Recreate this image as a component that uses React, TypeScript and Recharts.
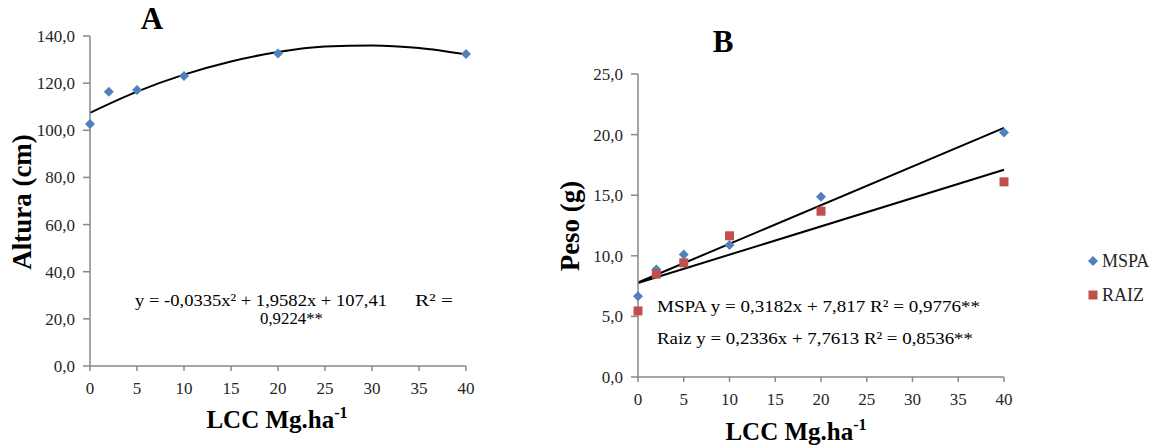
import { ComposedChart, Scatter, Line, XAxis, YAxis } from 'recharts';

// LCC doses (Mg/ha)
const doses = [0, 2, 5, 10, 20, 40];
// A: plant height (cm)
const altura = [102.7, 116.3, 117.1, 123.0, 132.6, 132.4];
// B: dry weight (g)
const mspa = [6.67, 8.87, 10.1, 10.9, 14.88, 20.17];
const raiz = [5.45, 8.49, 9.42, 11.65, 13.68, 16.1];

// fitted curves
const curveX = [0, 5, 10, 15, 20, 25, 30, 35, 40];
const curveAltura = [107.4, 116.4, 123.6, 129.2, 133.2, 135.5, 136.0, 134.9, 132.2];
const fitX = [0, 40];
const fitMspa = [7.8, 20.55];
const fitRaiz = [7.76, 17.1];

const xTicks = [0, 5, 10, 15, 20, 25, 30, 35, 40];
const alturaTicks = [0, 20, 40, 60, 80, 100, 120, 140];
const pesoTicks = [0, 5, 10, 15, 20, 25];

const BLUE = '#4F81BD';
const RED = '#C0504D';
const AXIS = '#898989';
const SERIF = "'Liberation Serif', 'Times New Roman', serif";

const toPts = (xs: number[], ys: number[]) => xs.map((x, i) => ({ x, y: ys[i] }));
const fmt = (v: number) => v.toFixed(1).replace('.', ',');

const tickStyle = { fill: '#262626', fontSize: 17, fontFamily: SERIF };

function Diamond(props: any) {
  const { cx, cy } = props;
  const r = 5;
  return <polygon points={`${cx},${cy - r} ${cx + r},${cy} ${cx},${cy + r} ${cx - r},${cy}`} fill={BLUE} />;
}

function Square(props: any) {
  const { cx, cy } = props;
  return <rect x={cx - 4.5} y={cy - 4.5} width={9} height={9} fill={RED} />;
}

export default function App() {
  return (
    <div style={{ position: 'absolute', left: 0, top: 0, width: 1160, height: 448, background: '#fff', fontFamily: SERIF }}>
      {/* Panel A */}
      <div style={{ position: 'absolute', left: 0, top: 0 }}>
        <ComposedChart width={480} height={448} margin={{ top: 36, right: 14, bottom: 52, left: 0 }}>
          <XAxis
            type="number"
            dataKey="x"
            domain={[0, 40]}
            ticks={xTicks}
            height={30}
            stroke={AXIS}
            strokeWidth={1.5}
            tickSize={5}
            tickMargin={11}
            tick={tickStyle}
          />
          <YAxis
            type="number"
            dataKey="y"
            domain={[0, 140]}
            ticks={alturaTicks}
            width={90}
            stroke={AXIS}
            strokeWidth={1.5}
            tickSize={7}
            tickMargin={8}
            tick={tickStyle}
            tickFormatter={fmt}
          />
          <Line
            data={toPts(curveX, curveAltura)}
            dataKey="y"
            type="monotone"
            stroke="#000"
            strokeWidth={2}
            dot={false}
            isAnimationActive={false}
          />
          <Scatter data={toPts(doses, altura)} dataKey="y" shape={Diamond} isAnimationActive={false} />
        </ComposedChart>
      </div>

      {/* Panel B */}
      <div style={{ position: 'absolute', left: 540, top: 0 }}>
        <ComposedChart width={620} height={448} margin={{ top: 74, right: 156, bottom: 41, left: 0 }}>
          <XAxis
            type="number"
            dataKey="x"
            domain={[0, 40]}
            ticks={xTicks}
            height={30}
            stroke={AXIS}
            strokeWidth={1.5}
            tickSize={5}
            tickMargin={11}
            tick={tickStyle}
          />
          <YAxis
            type="number"
            dataKey="y"
            domain={[0, 25]}
            ticks={pesoTicks}
            width={98}
            stroke={AXIS}
            strokeWidth={1.5}
            tickSize={7}
            tickMargin={8}
            tick={tickStyle}
            tickFormatter={fmt}
          />
          <Line data={toPts(fitX, fitMspa)} dataKey="y" type="linear" stroke="#000" strokeWidth={2} dot={false} isAnimationActive={false} />
          <Line data={toPts(fitX, fitRaiz)} dataKey="y" type="linear" stroke="#000" strokeWidth={2} dot={false} isAnimationActive={false} />
          <Scatter data={toPts(doses, mspa)} dataKey="y" shape={Diamond} isAnimationActive={false} />
          <Scatter data={toPts(doses, raiz)} dataKey="y" shape={Square} isAnimationActive={false} />
        </ComposedChart>
      </div>

      {/* titles, axis titles, equations, legend */}
      <svg width={1160} height={448} style={{ position: 'absolute', left: 0, top: 0, pointerEvents: 'none' }} fontFamily={SERIF}>
        <text x={152} y={29} textAnchor="middle" fontSize={31} fontWeight="bold">A</text>
        <text x={723} y={52} textAnchor="middle" fontSize={31} fontWeight="bold">B</text>

        <text x={31} y={202} textAnchor="middle" fontSize={27} fontWeight="bold" transform="rotate(-90, 31, 202)">Altura (cm)</text>
        <text x={579} y={226} textAnchor="middle" fontSize={27} fontWeight="bold" transform="rotate(-90, 579, 226)">Peso (g)</text>

        <text x={277} y={428} textAnchor="middle" fontSize={25} fontWeight="bold">
          LCC Mg.ha<tspan fontSize={16} dy={-10}>-1</tspan>
        </text>
        <text x={796} y={440} textAnchor="middle" fontSize={25} fontWeight="bold">
          LCC Mg.ha<tspan fontSize={16} dy={-10}>-1</tspan>
        </text>

        <text x={135} y={306} fontSize={17} textLength={252} lengthAdjust="spacingAndGlyphs">y = -0,0335x² + 1,9582x + 107,41</text>
        <text x={415} y={306} fontSize={17} textLength={38} lengthAdjust="spacingAndGlyphs">R² =</text>
        <text x={260} y={324} fontSize={17} textLength={63} lengthAdjust="spacingAndGlyphs">0,9224**</text>

        <text x={657} y={312} fontSize={17} textLength={323} lengthAdjust="spacingAndGlyphs">MSPA y = 0,3182x + 7,817  R² = 0,9776**</text>
        <text x={657} y={344} fontSize={17} textLength={316} lengthAdjust="spacingAndGlyphs">Raiz y = 0,2336x + 7,7613  R² = 0,8536**</text>

        <polygon points="1093,256 1098,261 1093,266 1088,261" fill={BLUE} />
        <text x={1102} y={267} fontSize={18} fill="#262626">MSPA</text>
        <rect x={1088.5} y={290.5} width={9} height={9} fill={RED} />
        <text x={1102} y={301} fontSize={18} fill="#262626">RAIZ</text>
      </svg>
    </div>
  );
}
